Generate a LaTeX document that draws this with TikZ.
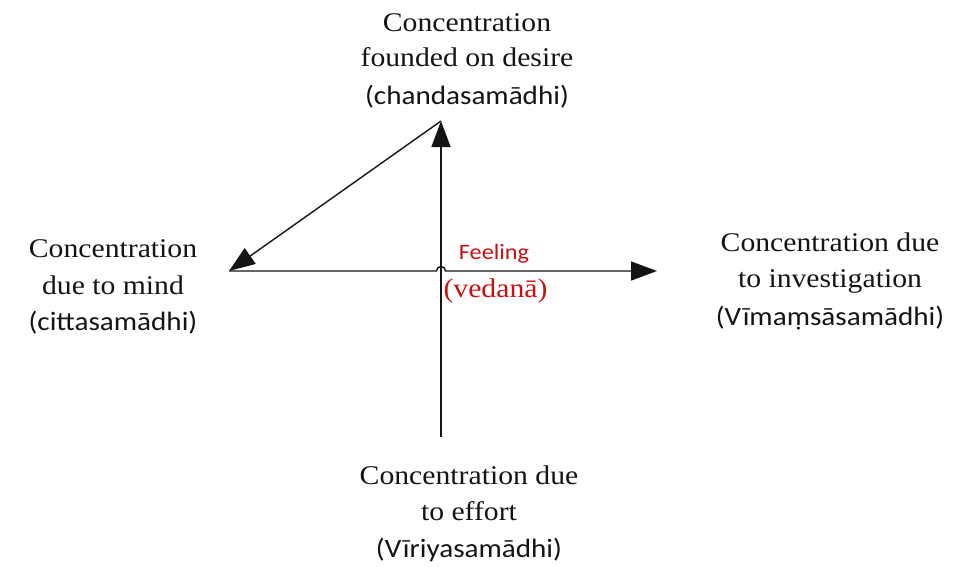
\documentclass[tikz,border=0pt]{standalone}
\usepackage{fontspec}
\setmainfont{Liberation Serif}[FakeStretch=1.1]
\newfontfamily\calfont{Carlito}[FakeStretch=1.1]
\usetikzlibrary{arrows.meta}
\definecolor{feelred}{RGB}{200,16,16}
\definecolor{ink}{RGB}{20,20,20}
\tikzset{
  serifline/.style={anchor=base, inner sep=0pt, text=ink, font=\fontsize{27}{32}\selectfont},
  sansline/.style={anchor=base, inner sep=0pt, text=ink, font=\calfont\fontsize{26.5}{32}\selectfont},
  axis/.style={draw=ink, line width=1.4pt},
  tip/.style={-{Triangle[length=26pt,width=19pt]}}
}
\begin{document}
\begin{tikzpicture}[x=1pt,y=-1pt]
\useasboundingbox (0,0) rectangle (971,567);

% end points of the three arrows
\coordinate (vb) at (441,437);
\coordinate (vt) at (441,121);
\coordinate (lt) at (229,271);
\coordinate (rt) at (657,271);
\coordinate (hopL) at (436.5,271);

% arrows
\draw[axis,tip] (vb) -- (vt);
\draw[axis,tip] (vt) -- (lt);
\draw[axis,tip] (lt) -- (hopL) arc[start angle=180,end angle=0,radius=4.5pt] -- (rt);

% top label
\node[serifline] (t1) at (467,32) {Concentration};
\node[serifline] (t2) at (467,67) {founded on desire};
\node[sansline]  (t3) at (467,105) {(chandasamādhi)};

% left label
\node[serifline] (l1) at (113,257) {Concentration};
\node[serifline] (l2) at (113,294) {due to mind};
\node[sansline]  (l3) at (113,330) {(cittasamādhi)};

% right label
\node[serifline] (r1) at (830,251) {Concentration due};
\node[serifline] (r2) at (830,287) {to investigation};
\node[sansline]  (r3) at (830,325) {(Vīmaṃsāsamādhi)};

% bottom label
\node[serifline] (b1) at (469,484) {Concentration due};
\node[serifline] (b2) at (469,520) {to effort};
\node[sansline]  (b3) at (469,557) {(Vīriyasamādhi)};

% centre label
\node[anchor=base, inner sep=0pt, text=feelred, font=\calfont\fontsize{22}{26}\selectfont] (f1) at (494,259) {Feeling};
\node[anchor=base, inner sep=0pt, text=feelred, font=\fontsize{27}{32}\selectfont] (f2) at (495.5,297) {(vedanā)};
\end{tikzpicture}
\end{document}
